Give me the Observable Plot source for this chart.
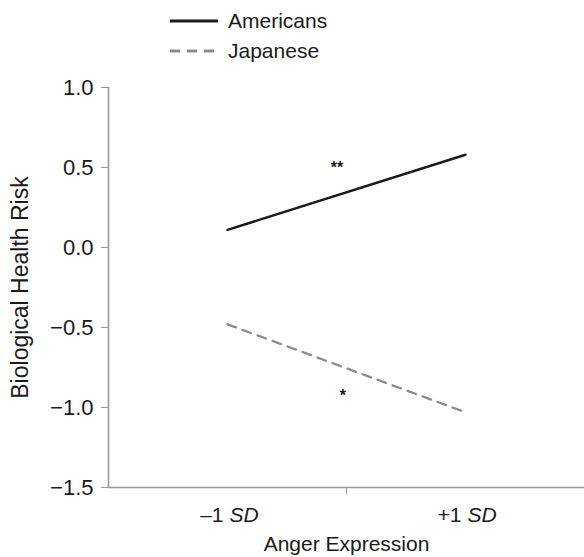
<!DOCTYPE html>
<html>
<head>
<meta charset="utf-8">
<script src="https://cdn.jsdelivr.net/npm/d3@7"></script>
<script src="https://cdn.jsdelivr.net/npm/@observablehq/plot@0.6"></script>
<style>
  html, body { margin: 0; padding: 0; background: #fff; }
  body { width: 584px; height: 557px; overflow: hidden; font-family: "Liberation Sans", Arial, sans-serif; }
  #legend { position: relative; width: 584px; height: 70px; }
  .row { position: absolute; left: 170px; height: 24px; display: flex; align-items: center; font-size: 21px; color: #1a1a1a; }
  .row svg { margin-right: 10px; }
</style>
</head>
<body>
<div id="legend"></div>
<div id="chart"></div>
<script>
// ---- data ----
const conditions = [-1, 1];               // -1 SD, +1 SD of anger expression
const americans = [0.11, 0.58];
const japanese = [-0.48, -1.03];
const groups = ["Americans", "Japanese"];
const groupColors = ["#1a1a1a", "#8c8c8c"];
const groupDash = [null, "9,7"];
const yTicks = [1.0, 0.5, 0.0, -0.5, -1.0, -1.5];
const xTickValues = [-1, 1];
const xTickNumbers = ["\u20131", "+1"];
const xTickUnits = ["SD", "SD"];
const sigX = [-0.08, -0.03];
const sigY = [0.50, -0.93];
const sigLabels = ["**", "*"];

// ---- legend ----
const legend = document.getElementById("legend");
groups.forEach((g, i) => {
  const row = document.createElement("div");
  row.className = "row";
  row.style.top = (9 + i * 30) + "px";
  const dash = groupDash[i] ? `stroke-dasharray="10,7"` : "";
  row.innerHTML = `<svg width="48" height="24"><line x1="0" x2="48" y1="12" y2="12" stroke="${groupColors[i]}" stroke-width="2.8" ${dash}/></svg><span>${g}</span>`;
  legend.appendChild(row);
});

// ---- table ----
const rows = [];
conditions.forEach((c, i) => {
  rows.push({group: groups[0], x: c, y: americans[i]});
  rows.push({group: groups[1], x: c, y: japanese[i]});
});
const xt = xTickValues.map((v, i) => ({x: v, num: xTickNumbers[i], unit: xTickUnits[i]}));
const sig = sigLabels.map((s, i) => ({x: sigX[i], y: sigY[i], s}));

const plot = Plot.plot({
  width: 584,
  height: 487,
  marginTop: 17,
  marginBottom: 70,
  marginLeft: 108,
  marginRight: 0,
  x: {domain: [-2, 2]},
  y: {domain: [-1.5, 1]},
  style: {fontFamily: "'Liberation Sans', Arial, sans-serif", fontSize: "21px", color: "#1a1a1a", background: "#fff"},
  marks: [
    Plot.axisY(yTicks, {
      tickSize: 7, tickPadding: 8, stroke: "#999", fill: "#1a1a1a",
      tickFormat: d3.format(".1f"), fontSize: 22,
      label: "Biological Health Risk", labelAnchor: "center", labelOffset: 97, labelArrow: "none"
    }),
    Plot.axisX([0], {
      tickSize: 7, stroke: "#999", tickFormat: () => "",
      label: "Anger Expression", labelAnchor: "center", labelOffset: 63, labelArrow: "none", fontSize: 21
    }),
    Plot.ruleX([-2], {y1: -1.5, y2: 1, stroke: "#999", strokeWidth: 1.6}),
    Plot.ruleY([-1.5], {stroke: "#999", strokeWidth: 1.6}),
    Plot.text(xt, {x: "x", y: () => -1.5, text: "num", textAnchor: "end", dx: -4, dy: 28, fontSize: 21, fill: "#1a1a1a"}),
    Plot.text(xt, {x: "x", y: () => -1.5, text: "unit", textAnchor: "start", dx: 2, dy: 28, fontSize: 21, fontStyle: "italic", fill: "#1a1a1a"}),
    Plot.line(rows.filter(d => d.group === groups[0]), {x: "x", y: "y", stroke: groupColors[0], strokeWidth: 2.5}),
    Plot.line(rows.filter(d => d.group === groups[1]), {x: "x", y: "y", stroke: groupColors[1], strokeWidth: 2.3, strokeDasharray: groupDash[1]}),
    Plot.text(sig, {x: "x", y: "y", text: "s", fontSize: 16, fontWeight: "bold", fill: "#1a1a1a"})
  ]
});
// make the y-axis title slightly larger, as in the reference
plot.querySelectorAll("g[aria-label='y-axis label'] text").forEach(t => t.setAttribute("font-size", 23));
document.getElementById("chart").appendChild(plot);
</script>
</body>
</html>
